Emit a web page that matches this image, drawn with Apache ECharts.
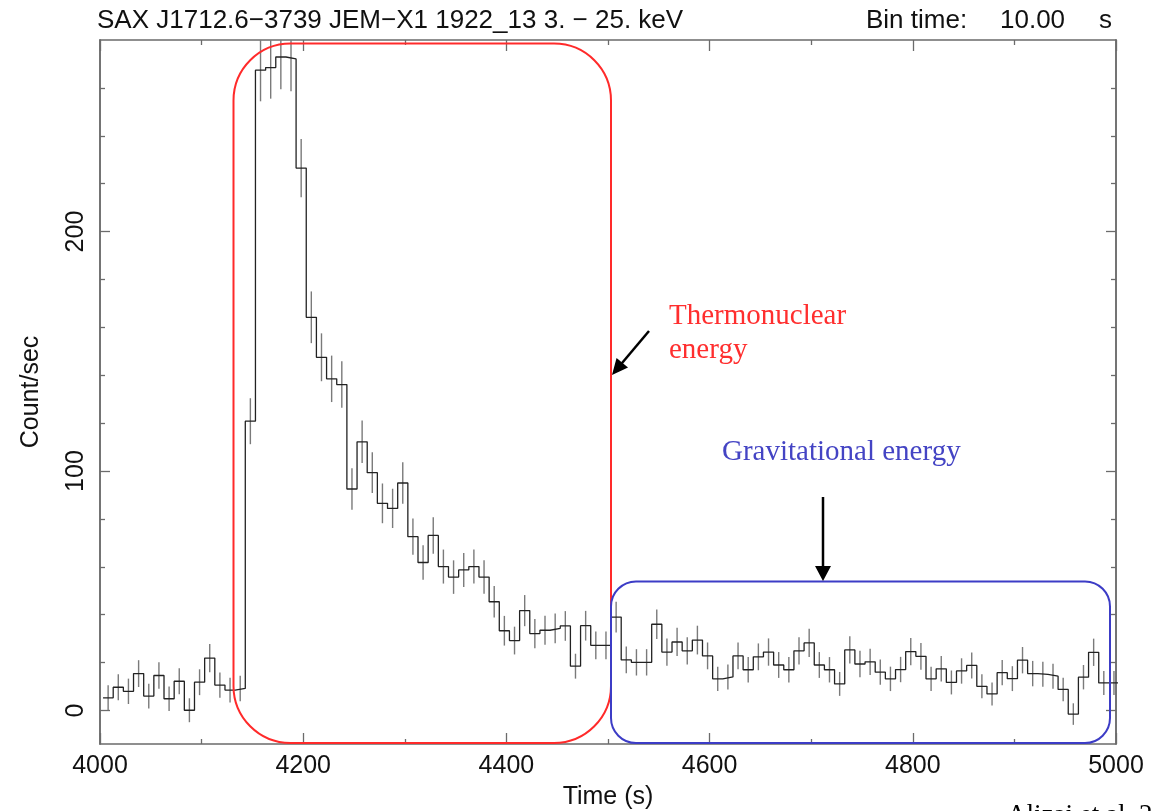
<!DOCTYPE html>
<html><head><meta charset="utf-8">
<script src="https://cdn.jsdelivr.net/npm/echarts@6/dist/echarts.min.js"></script>
<style>html,body{margin:0;padding:0;background:#fff;overflow:hidden}#c{width:1158px;height:811px}</style>
</head><body><div id="c"></div>
<script>
// ---- data ----
const binStartTime = 4003;   // s, left edge of first bin
const binWidth = 10;         // s
const countRate = [
  5.3, 9.7, 8.0, 15.4, 6.0, 14.6, 4.9, 12.2, 0.1, 11.8, 21.9, 10.6, 8.5, 9.2,
  120.8, 267.4, 268.5, 272.9, 272.1, 226.5, 164.2, 147.5, 138.5, 136.1,
  92.5, 112.2, 99.3, 86.5, 84.4, 95.0, 72.6, 61.8, 73.1, 60.1,
  55.7, 58.7, 60.1, 55.7, 45.4, 33.3, 29.2, 41.7, 32.1, 33.5,
  34.3, 35.3, 18.5, 35.4, 27.2, 27.2, 39.0, 21.1, 20.1, 20.1,
  36.0, 24.4, 28.6, 24.9, 29.4, 22.8, 13.2, 14.0, 22.8, 17.0,
  22.4, 24.4, 19.0, 17.0, 24.9, 28.2, 19.0, 17.0, 11.1, 25.3,
  19.4, 20.3, 16.0, 13.2, 17.1, 24.6, 22.6, 13.2, 17.4, 11.7,
  16.5, 18.8, 10.1, 6.9, 15.8, 13.3, 21.0, 15.4, 15.1, 14.3,
  8.8, -1.5, 13.9, 24.3, 11.5, 11.5
];
const countErr = [
  5.2, 5.4, 5.3, 5.6, 5.2, 5.5, 5.1, 5.4, 5.0, 5.4, 5.9, 5.3, 5.2, 5.3,
  9.6, 13.0, 13.0, 13.5, 13.5, 12.2, 10.8, 10.0, 9.7, 9.7,
  8.7, 8.9, 8.5, 8.3, 8.2, 8.7, 7.6, 7.2, 7.6, 7.1,
  7.0, 7.1, 7.1, 7.0, 6.6, 6.2, 5.8, 6.5, 6.1, 6.1,
  6.2, 6.2, 5.2, 6.2, 5.8, 5.8, 6.4, 5.6, 5.5, 5.5,
  6.2, 5.7, 5.9, 5.7, 6.0, 5.6, 5.1, 5.2, 5.6, 5.3,
  5.6, 5.7, 5.4, 5.3, 5.7, 5.9, 5.4, 5.3, 5.0, 5.7,
  5.5, 5.5, 5.3, 5.1, 5.3, 5.7, 5.6, 5.1, 5.3, 5.0,
  5.3, 5.4, 5.0, 4.8, 5.3, 5.2, 5.5, 5.3, 5.2, 5.2,
  4.9, 4.5, 5.1, 5.7, 5.0, 5.0
];
const xMin = 4000, xMax = 5000, xLabelStep = 200;
const yMin = -14, yMax = 280;
const yMajorTicks = [0, 100, 200];
const yMinorTicks = [20, 40, 60, 80, 120, 140, 160, 180, 220, 240, 260];
const titleText = 'SAX J1712.6\u22123739 JEM\u2212X1 1922_13 3. \u2212 25. keV';
const binLabel = 'Bin time:', binValue = '10.00', binUnit = 's';
const xName = 'Time (s)', yName = 'Count/sec';
const noteThermo = ['Thermonuclear', 'energy'];
const noteGrav = 'Gravitational energy';
const credit = 'Alizai et al. 2';

// ---- build series data ----
const stepData = [];
const errData = [];
countRate.forEach((v, k) => {
  const t0 = binStartTime + k * binWidth;
  stepData.push([t0, v], [t0 + binWidth, v]);
  errData.push([t0 + binWidth / 2, v - countErr[k], v + countErr[k]]);
});

const AX = '#6b6b6b';
const SANS = 'Liberation Sans, Arial, sans-serif';
const SERIF = 'Liberation Serif, Times New Roman, serif';

function yAxisCfg(pos, ticks, len, labels) {
  return {
    type: 'value', position: pos, min: yMin, max: yMax,
    axisLine: { show: true, lineStyle: { color: AX, width: 1.5 } },
    splitLine: { show: false },
    axisTick: { show: true, inside: true, length: len, customValues: ticks, lineStyle: { color: AX, width: 1.3 } },
    axisLabel: labels ? { show: true, customValues: yMajorTicks, rotate: 90, margin: 11, color: '#111', fontSize: 25, fontFamily: SANS } : { show: false },
    name: labels ? yName : '', nameLocation: 'middle', nameGap: 56, nameRotate: 90,
    nameTextStyle: { color: '#111', fontSize: 25, fontFamily: SANS }
  };
}
function xAxisCfg(pos, labels) {
  return {
    type: 'value', position: pos, min: xMin, max: xMax, interval: xLabelStep,
    axisLine: { show: true, onZero: false, lineStyle: { color: AX, width: 1.5 } },
    splitLine: { show: false },
    axisTick: { show: true, inside: true, length: 11, lineStyle: { color: AX, width: 1.3 } },
    minorTick: { show: true, splitNumber: 2, length: 5, lineStyle: { color: AX, width: 1.3 } },
    axisLabel: labels ? { show: true, margin: 10, color: '#111', fontSize: 25, fontFamily: SANS, formatter: v => String(v) } : { show: false },
    name: labels ? xName : '', nameLocation: 'middle', nameGap: 41,
    nameTextStyle: { color: '#111', fontSize: 25, fontFamily: SANS }
  };
}

const chart = echarts.init(document.getElementById('c'), null, { renderer: 'canvas', width: 1158, height: 811 });

// arrowhead helper (pixel annotation)
function arrow(x1, y1, x2, y2, headLen, headW) {
  const dx = x2 - x1, dy = y2 - y1, L = Math.hypot(dx, dy);
  const ux = dx / L, uy = dy / L, px = -uy, py = ux;
  const bx = x2 - ux * headLen, by = y2 - uy * headLen;
  return [
    { type: 'line', shape: { x1: x1, y1: y1, x2: bx + ux * 2, y2: by + uy * 2 }, style: { stroke: '#000', lineWidth: 2.5 }, z: 100 },
    { type: 'polygon', shape: { points: [[x2, y2], [bx + px * headW / 2, by + py * headW / 2], [bx - px * headW / 2, by - py * headW / 2]] }, style: { fill: '#000' }, z: 100 }
  ];
}

const txt = (x, y, text, font, fill) => ({
  type: 'text', x: x, y: y, z: 100,
  style: { text: text, font: font, fill: fill, textAlign: 'left', align: 'left', textVerticalAlign: 'top', verticalAlign: 'top' }
});

const graphics = [
  txt(97, 8, titleText, '26px ' + SANS, '#111'),
  txt(866, 8, binLabel, '26px ' + SANS, '#111'),
  txt(1000, 8, binValue, '26px ' + SANS, '#111'),
  txt(1099, 8, binUnit, '26px ' + SANS, '#111'),
  { type: 'rect', z: 90, shape: { x: 233.5, y: 43.5, width: 377.5, height: 699.5, r: 57 }, style: { fill: 'none', stroke: '#ff2a2a', lineWidth: 2 } },
  { type: 'rect', z: 91, shape: { x: 611, y: 581.5, width: 499, height: 161.5, r: 25 }, style: { fill: 'none', stroke: '#3c3cc6', lineWidth: 2 } },
  txt(669, 302, noteThermo[0], '29px ' + SERIF, '#ff2e2e'),
  txt(669, 336, noteThermo[1], '29px ' + SERIF, '#ff2e2e'),
  txt(722, 438, noteGrav, '29px ' + SERIF, '#4444c4'),
  txt(1007, 802, credit, '27px ' + SERIF, '#000'),
  ...arrow(649, 331, 612, 375, 16, 15),
  ...arrow(823, 497, 823, 581, 15, 16)
];

chart.setOption({
  animation: false,
  backgroundColor: '#fff',
  grid: { left: 100, width: 1016, top: 40, height: 704, containLabel: false, outerBoundsMode: 'none' },
  xAxis: [xAxisCfg('bottom', true), xAxisCfg('top', false)],
  yAxis: [
    yAxisCfg('left', yMajorTicks, 10, true),
    yAxisCfg('left', yMinorTicks, 5, false),
    yAxisCfg('right', yMajorTicks, 10, false),
    yAxisCfg('right', yMinorTicks, 5, false)
  ],
  series: [
    {
      type: 'line', xAxisIndex: 0, yAxisIndex: 0, data: stepData,
      showSymbol: false, symbol: 'none', clip: true,
      lineStyle: { color: '#222', width: 1.3 }, z: 5
    },
    {
      type: 'custom', xAxisIndex: 0, yAxisIndex: 0, data: errData, clip: true,
      encode: { x: 0, y: [1, 2] },
      renderItem: function (params, api) {
        const x = api.value(0), lo = api.value(1), hi = api.value(2);
        const p1 = api.coord([x, lo]), p2 = api.coord([x, hi]);
        const cs = params.coordSys;
        const clampY = y => Math.min(Math.max(y, cs.y), cs.y + cs.height);
        return { type: 'line', shape: { x1: p1[0], y1: clampY(p1[1]), x2: p2[0], y2: clampY(p2[1]) },
                 style: { stroke: '#7a7a7a', lineWidth: 1.4 } };
      }, z: 4
    }
  ],
  graphic: graphics
});
</script></body></html>
